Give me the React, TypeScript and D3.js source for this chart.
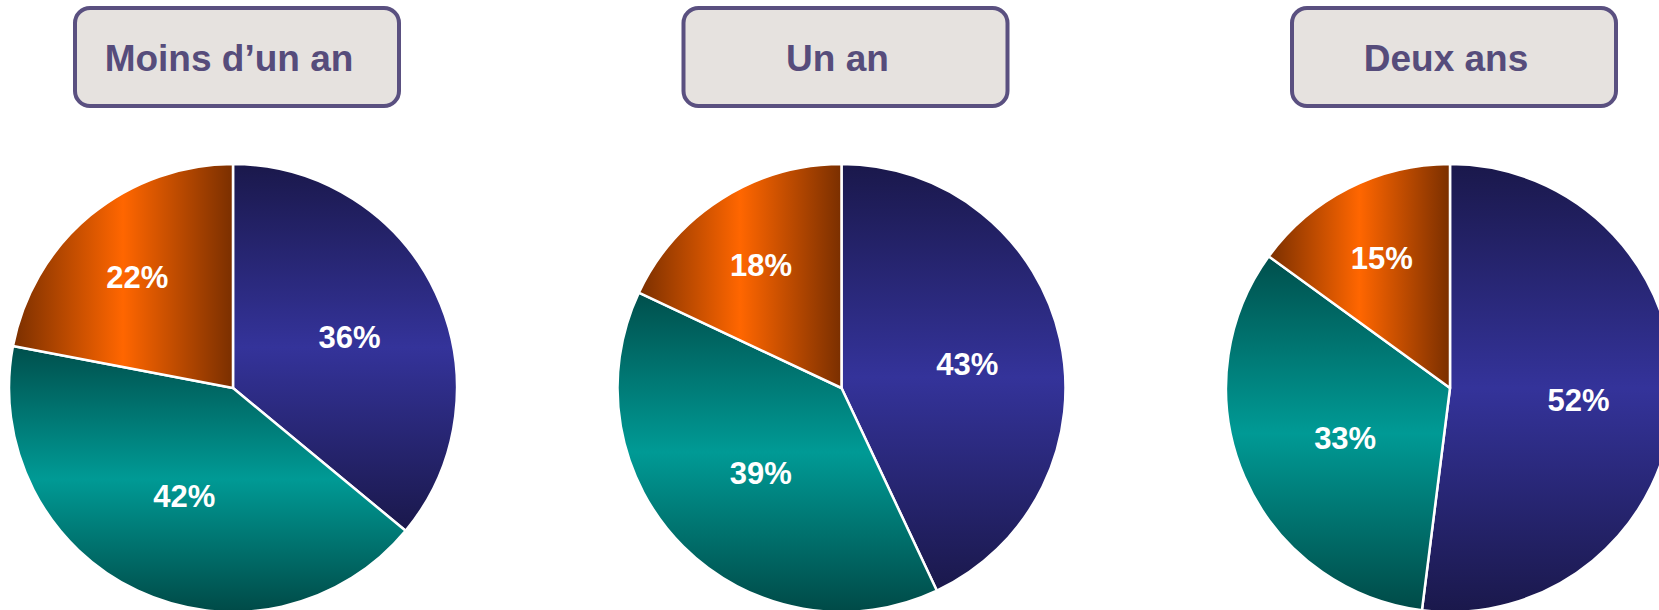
import React from "react";
import * as d3 from "d3";

const categories = ["Moins d’un an", "Un an", "Deux ans"];
const seriesNames = ["blue", "teal", "orange"];
const blueValues = [36, 43, 52];
const tealValues = [42, 39, 33];
const orangeValues = [22, 18, 15];

const W = 1659;
const H = 610;
const R = 224;
const CY = 388;

const labelFactor: Record<string, number> = { blue: 0.575, teal: 0.51, orange: 0.67 };

export default function App() {
  const x = d3.scalePoint<string>().domain(categories).range([233, 1450]);
  const pie = d3
    .pie<{ key: string; value: number }>()
    .sort(null)
    .value((d) => d.value);
  const arc = d3.arc<d3.PieArcDatum<{ key: string; value: number }>>().innerRadius(0).outerRadius(R);

  return (
    <svg
      width={W}
      height={H}
      style={{ position: "absolute", left: 0, top: 0, overflow: "hidden", background: "#fff" }}
    >
      <defs>
        <linearGradient id="g-blue" x1="0" y1="0" x2="0" y2="1">
          <stop offset="0" stopColor="#1a184b" />
          <stop offset="0.5" stopColor="#34339a" />
          <stop offset="1" stopColor="#1a184b" />
        </linearGradient>
        <linearGradient id="g-teal" x1="0" y1="0" x2="0" y2="1">
          <stop offset="0" stopColor="#004f4c" />
          <stop offset="0.5" stopColor="#009a95" />
          <stop offset="1" stopColor="#004a47" />
        </linearGradient>
        <linearGradient id="g-orange" x1="0" y1="0" x2="1" y2="0">
          <stop offset="0" stopColor="#7a2f00" />
          <stop offset="0.5" stopColor="#ff6600" />
          <stop offset="1" stopColor="#7a2f00" />
        </linearGradient>
      </defs>
      {categories.map((cat, i) => {
        const cx = x(cat) as number;
        const data = [
          { key: seriesNames[0], value: blueValues[i] },
          { key: seriesNames[1], value: tealValues[i] },
          { key: seriesNames[2], value: orangeValues[i] },
        ];
        const arcs = pie(data);
        return (
          <g key={cat}>
            <rect
              x={cx + 4 - 162}
              y={8}
              width={324}
              height={98}
              rx={15}
              ry={15}
              fill="#e6e2df"
              stroke="#5a5080"
              strokeWidth={4}
            />
            <text
              x={cx - 4}
              y={71}
              textAnchor="middle"
              fontFamily="'Liberation Sans', Arial, sans-serif"
              fontWeight="bold"
              fontSize={37}
              fill="#564c7b"
            >
              {cat}
            </text>
            <g transform={`translate(${cx},${CY})`}>
              {arcs.map((a) => (
                <path
                  key={a.data.key}
                  d={arc(a) as string}
                  fill={`url(#g-${a.data.key})`}
                  stroke="#ffffff"
                  strokeWidth={2.5}
                  strokeLinejoin="round"
                />
              ))}
              {arcs.map((a) => {
                const lr = R * labelFactor[a.data.key];
                const c = d3
                  .arc<d3.PieArcDatum<{ key: string; value: number }>>()
                  .innerRadius(lr)
                  .outerRadius(lr)
                  .centroid(a);
                return (
                  <text
                    key={"l" + a.data.key}
                    x={c[0]}
                    y={c[1] + 4}
                    dy="0.36em"
                    textAnchor="middle"
                    fontFamily="'Liberation Sans', Arial, sans-serif"
                    fontWeight="bold"
                    fontSize={31}
                    fill="#ffffff"
                  >
                    {a.data.value}%
                  </text>
                );
              })}
            </g>
          </g>
        );
      })}
    </svg>
  );
}
